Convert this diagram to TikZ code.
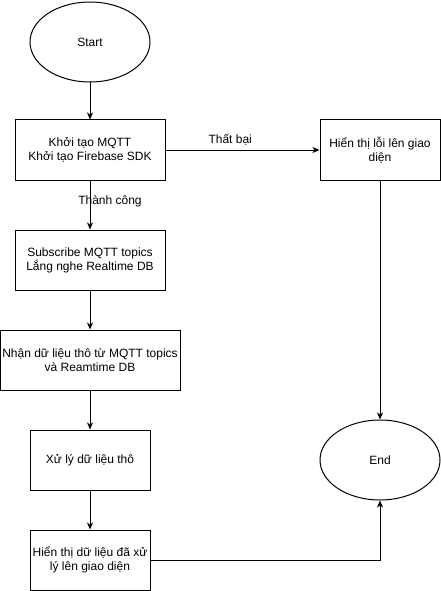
\documentclass[tikz,border=0pt]{standalone}
\usepackage{fontspec}
\setmainfont{Liberation Sans}
\usetikzlibrary{shapes.geometric,arrows.meta}
\begin{document}
\begin{tikzpicture}[x=1pt,y=-1pt,
  box/.style={draw,line width=1pt,minimum width=#1,minimum height=60pt,align=center,inner sep=0pt,font=\fontsize{12}{14}\selectfont},
  term/.style={draw,line width=1pt,ellipse,minimum width=120pt,minimum height=80pt,inner sep=0pt,font=\fontsize{12}{14}\selectfont},
  conn/.style={line width=1pt,-{Stealth[length=7pt,width=6pt,inset=2pt]}},
  lbl/.style={font=\fontsize{12}{14}\selectfont,inner sep=1pt}]
\useasboundingbox (0,0) rectangle (441,591);
\node[term] (start) at (90,42) {Start};
\node[box=150pt] (init) at (90,150) {Khởi tạo MQTT\\Khởi tạo Firebase SDK};
\node[box=120pt] (err) at (380,150) {Hiển thị lỗi lên giao\\diện};
\node[box=150pt] (sub) at (90,260) {Subscribe MQTT topics\\Lắng nghe Realtime DB};
\node[box=180pt] (recv) at (90,360) {Nhận dữ liệu thô từ MQTT topics\\và Reamtime DB};
\node[box=120pt] (proc) at (90,460) {Xử lý dữ liệu thô};
\node[box=120pt] (show) at (90,560) {Hiển thị dữ liệu đã xử\\lý lên giao diện};
\node[term] (end) at (380,460) {End};
\coordinate (corner) at (380,560);
\draw[conn] (start) -- (init);
\draw[conn] (init) -- node[lbl,pos=0.42,yshift=10pt] {Thất bại} (err);
\draw[conn] (init) -- (sub);
\node[lbl] (ok) at (110,201) {Thành công};
\draw[conn] (sub) -- (recv);
\draw[conn] (recv) -- (proc);
\draw[conn] (proc) -- (show);
\draw[conn] (err) -- (end);
\draw[conn] (show.east) -- (corner) -- (end.south);
\end{tikzpicture}
\end{document}
